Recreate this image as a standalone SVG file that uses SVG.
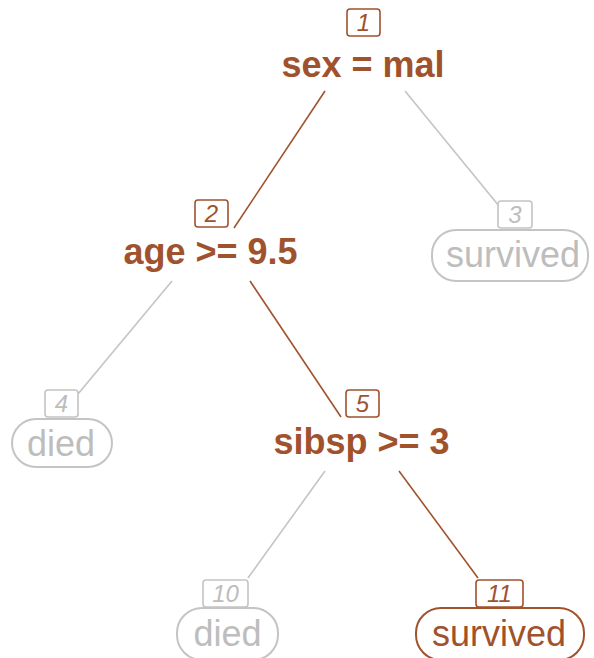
<svg xmlns="http://www.w3.org/2000/svg" width="594" height="658" viewBox="0 0 594 658">
<style>
.bg{fill:#ffffff}
.eb{stroke:#A0522D;stroke-width:1.6;fill:none}
.eg{stroke:#C4C4C4;stroke-width:1.6;fill:none}
.nb{fill:#ffffff;stroke:#A0522D;stroke-width:1.6}
.ng{fill:#ffffff;stroke:#C4C4C4;stroke-width:1.6}
.lb{fill:#ffffff;stroke:#A0522D;stroke-width:2}
.lg{fill:#ffffff;stroke:#C4C4C4;stroke-width:2}
.numb{font-family:"Liberation Sans",Arial,sans-serif;font-style:italic;font-size:24px;fill:#A0522D;text-anchor:middle}
.numg{font-family:"Liberation Sans",Arial,sans-serif;font-style:italic;font-size:24px;fill:#BDBDBD;text-anchor:middle}
.split{font-family:"Liberation Sans",Arial,sans-serif;font-weight:bold;font-size:36px;fill:#A0522D;text-anchor:middle}
.leafb{font-family:"Liberation Sans",Arial,sans-serif;font-size:36px;fill:#A0522D;text-anchor:middle}
.leafg{font-family:"Liberation Sans",Arial,sans-serif;font-size:36px;fill:#BDBDBD;text-anchor:middle}
</style>
<rect class="bg" x="0" y="0" width="594" height="658"/>
<g id="connectors">
<line class="eb" x1="325" y1="91" x2="234" y2="228"/>
<line class="eg" x1="405" y1="91" x2="499" y2="206"/>
<line class="eg" x1="172" y1="281" x2="78" y2="394"/>
<line class="eb" x1="250" y1="281" x2="341" y2="417"/>
<line class="eg" x1="325" y1="471" x2="248" y2="578"/>
<line class="eb" x1="399" y1="471" x2="478" y2="578"/>
</g>
<g id="node1">
<rect class="nb" x="347" y="9" width="33" height="27" rx="3"/>
<text class="numb" x="363.5" y="31">1</text>
<text class="split" x="363" y="77">sex = mal</text>
</g>
<g id="node2">
<rect class="nb" x="195" y="200" width="33" height="27" rx="3"/>
<text class="numb" x="211.5" y="222">2</text>
<text class="split" x="210.5" y="264">age &gt;= 9.5</text>
</g>
<g id="node3">
<rect class="ng" x="498" y="201" width="34" height="27" rx="3"/>
<text class="numg" x="515" y="223">3</text>
<rect class="lg" x="432" y="230" width="156" height="51" rx="24"/>
<text class="leafg" x="513" y="267">survived</text>
</g>
<g id="node4">
<rect class="ng" x="45" y="390" width="33" height="27" rx="3"/>
<text class="numg" x="61.5" y="412">4</text>
<rect class="lg" x="12" y="419" width="100" height="48" rx="24"/>
<text class="leafg" x="61" y="456">died</text>
</g>
<g id="node5">
<rect class="nb" x="346" y="390" width="33" height="27" rx="3"/>
<text class="numb" x="362.5" y="412">5</text>
<text class="split" x="361.5" y="454">sibsp &gt;= 3</text>
</g>
<g id="node10">
<rect class="ng" x="203" y="580" width="45" height="27" rx="3"/>
<text class="numg" x="225.5" y="602">10</text>
<rect class="lg" x="177" y="608" width="101" height="52" rx="25"/>
<text class="leafg" x="227.5" y="646">died</text>
</g>
<g id="node11">
<rect class="nb" x="476" y="580" width="47" height="27" rx="3"/>
<text class="numb" x="499.5" y="602">11</text>
<rect class="lb" x="416" y="608" width="168" height="52" rx="25"/>
<text class="leafb" x="499" y="646">survived</text>
</g>
</svg>
